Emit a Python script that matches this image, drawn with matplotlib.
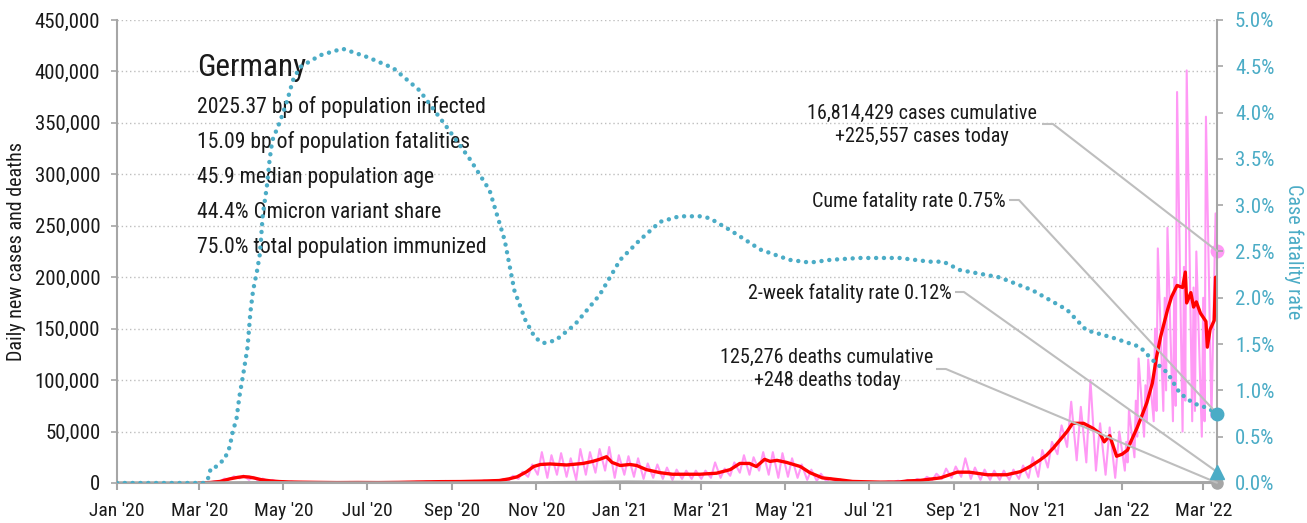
import matplotlib
matplotlib.use("Agg")
import matplotlib.pyplot as plt
import matplotlib.dates as mdates
from matplotlib.ticker import FuncFormatter, MultipleLocator
import pandas as pd

plt.rcParams["font.family"] = ["Roboto Condensed", "DejaVu Sans"]

# ---- data ----
# days are counted from 2020-01-01
DAY0 = pd.Timestamp("2020-01-01")
last_day = 800  # 2022-03-11

# daily new cases, thousands: Monday trough / Thursday peak for each week from 2020-03-02
pink_low = [0.1, 0.4, 1.5, 3.5, 4.5, 3.0, 2.0, 1.5, 1.0, 0.6,
            0.4, 0.4, 0.3, 0.3, 0.2, 0.3, 0.4, 0.3, 0.3, 0.3,
            0.4, 0.5, 0.6, 0.7, 0.8, 0.8, 0.8, 0.9, 1.0, 1.2,
            1.4, 1.5, 2.5, 4.0, 6.0, 8.0, 5.0, 8.0, 6.0, 3.0,
            8.0, 10.0, 12.0, 5.0, 8.0, 6.0, 4.0, 5.0, 4.0, 3.0,
            4.0, 4.0, 4.0, 5.0, 5.0, 7.0, 10.0, 8.0, 12.0, 8.0,
            5.0, 6.0, 5.0, 3.0, 2.0, 1.5, 1.0, 0.6, 0.5, 0.4,
            0.4, 0.5, 0.8, 1.0, 1.5, 2.0, 3.0, 4.0, 5.0, 6.0,
            4.0, 3.0, 3.0, 3.0, 3.0, 4.0, 5.0, 6.0, 15.0, 28.0,
            35.0, 22.0, 20.0, 12.0, 8.0, 5.0, 12.0, 25.0, 45.0, 60.0,
            70.0, 60.0, 50.0, 60.0, 45.0, 64.0]
pink_high = [0.3, 1.6, 4.2, 6.5, 7.2, 6.0, 4.3, 3.0, 1.9, 1.3,
             1.0, 0.9, 0.8, 0.6, 0.5, 1.0, 0.8, 0.6, 0.5, 0.6,
             0.8, 1.0, 1.2, 1.5, 1.7, 2.0, 1.8, 1.9, 2.0, 2.4,
             2.8, 4.0, 7.0, 11.0, 18.0, 30.0, 27.0, 29.0, 24.0, 33.0,
             30.0, 33.0, 35.0, 27.0, 26.0, 24.0, 19.0, 18.0, 15.0, 13.0,
             12.0, 12.0, 12.0, 20.0, 14.0, 20.0, 27.0, 25.0, 30.0, 30.0,
             29.0, 24.0, 18.0, 13.0, 9.0, 5.0, 3.5, 2.0, 1.2, 1.0,
             1.0, 1.5, 2.2, 3.0, 4.0, 6.0, 9.0, 14.0, 16.0, 24.0,
             15.0, 13.0, 12.0, 12.0, 13.0, 17.0, 25.0, 32.0, 40.0, 56.0,
             79.0, 74.0, 100.0, 58.0, 54.0, 50.0, 71.0, 121.0, 120.0, 228.0,
             248.0, 380.0, 401.0, 225.0, 356.0, 262.0]
# Omicron weeks (from week 96) have a second spike on Tuesday and a dip on Wednesday
omi_first_week = 96
omi_tue = [40, 80, 95, 150, 180, 200, 210, 190, 180]
omi_wed = [20, 45, 60, 70, 90, 75, 80, 70, 60]
cases_today = 225557
cases_cum = 16814429

# 7-day average of new cases, thousands
avg_day = [60, 68, 75, 82, 88, 92, 96, 100, 105, 112, 118, 125, 133, 145, 160, 175, 190,
           205, 220, 235, 250, 265, 278, 285, 291, 298, 303, 308, 315, 327, 339, 346, 351,
           356, 360, 366, 373, 378, 385, 395, 404, 424, 436, 446, 453, 460, 465, 471, 475,
           480, 487, 497, 504, 513, 526, 535, 555, 569, 575, 584, 599, 611, 620, 633, 647,
           657, 664, 671, 676, 681, 686, 691, 695, 703, 710, 715, 718, 722, 727, 731, 735,
           737, 742, 745, 749, 753, 756, 759, 764, 767, 771, 775, 777, 778, 781, 783, 785,
           788, 792, 793, 795, 798, 799, 800]
avg_k = [0.0, 0.5, 1.5, 4.0, 5.5, 6.2, 5.8, 4.8, 3.2, 2.0, 1.4, 1.0, 0.8, 0.6, 0.4, 0.5, 0.4,
         0.6, 1.0, 1.3, 1.4, 1.8, 2.4, 4.0, 6.0, 11.0, 16.0, 18.0, 18.5, 17.5, 19.0, 21.0, 23.0,
         25.5, 20.0, 17.0, 18.0, 17.0, 13.0, 10.0, 8.5, 8.5, 9.5, 13.0, 19.0, 19.0, 16.0, 23.0, 21.0,
         22.0, 20.0, 16.0, 10.0, 5.0, 3.0, 1.5, 0.8, 1.0, 2.0, 2.5, 5.0, 10.5, 10.5, 8.0, 8.0,
         11.0, 16.0, 22.0, 27.0, 34.0, 42.0, 50.0, 58.0, 58.0, 53.0, 48.0, 40.0, 46.0, 26.0, 28.0, 32.0,
         39.0, 54.0, 64.0, 78.0, 97.0, 122.0, 142.0, 168.0, 181.0, 192.0, 190.0, 205.0, 175.0, 185.0, 171.0, 176.0,
         165.0, 157.0, 132.0, 149.0, 158.0, 200.0, 190.0]

# daily deaths, thousands
death_day = [0, 70, 85, 100, 115, 130, 160, 240, 290, 310, 340, 370, 390, 420, 440,
             470, 500, 530, 580, 620, 660, 700, 730, 760, 790, 800]
death_k = [0.0, 0.0, 0.1, 0.22, 0.18, 0.08, 0.02, 0.01, 0.03, 0.15, 0.5, 0.85, 0.7, 0.4, 0.2,
           0.22, 0.2, 0.07, 0.02, 0.05, 0.08, 0.3, 0.25, 0.15, 0.2, 0.248]
deaths_today = 248
deaths_cum = 125276

# cumulative case fatality rate, percent
cfr_day = [0, 64, 67, 68, 70, 73, 76, 78, 80, 82, 84, 87, 89, 92, 95, 97, 99, 102, 104,
           106, 109, 111, 113, 119, 124, 128, 133, 148, 164, 182, 201, 220, 240, 257, 271,
           282, 289, 297, 304, 310, 319, 333, 351, 366, 380, 395, 409, 424, 431, 446, 468,
           489, 504, 519, 540, 569, 591, 601, 613, 642, 666, 691, 705, 724, 744, 753, 764,
           773, 783, 793, 800]
cfr_pct = [0.0, 0.0, 0.07, 0.15, 0.15, 0.19, 0.23, 0.25, 0.32, 0.39, 0.54, 0.70, 0.93, 1.19,
           1.47, 1.84, 2.08, 2.30, 2.48, 2.89, 3.20, 3.49, 3.70, 3.92, 4.14, 4.35, 4.49, 4.62,
           4.69, 4.60, 4.48, 4.24, 3.84, 3.49, 3.16, 2.62, 2.08, 1.76, 1.57, 1.51, 1.54, 1.71,
           2.03, 2.41, 2.62, 2.82, 2.88, 2.88, 2.86, 2.73, 2.52, 2.41, 2.38, 2.41, 2.43, 2.43,
           2.39, 2.39, 2.30, 2.22, 2.08, 1.87, 1.65, 1.57, 1.47, 1.33, 1.19, 0.97, 0.86, 0.81, 0.75]
cfr_now = 0.75
cfr_2week = 0.12

info_lines = ["2025.37 bp of population infected",
              "15.09 bp of population fatalities",
              "45.9 median population age",
              "44.4% Omicron variant share",
              "75.0% total population immunized"]

# ---- styling ----
PINK = "#FF99F5"
RED = "#FF0000"
TEAL = "#4BACC6"
GREY = "#A6A6A6"
LINE_GREY = "#BEBEBE"
TXT = "#1A1A1A"


def to_dates(days):
    return DAY0 + pd.to_timedelta(days, unit="D")


last_date = to_dates(last_day)
last_num = mdates.date2num(last_date)

# build the zig-zag daily case series
pts_x, pts_y = [], []
weeks = pd.date_range("2020-03-02", periods=len(pink_low), freq="7D")
for i, wk in enumerate(weeks):
    pts_x.append(wk); pts_y.append(pink_low[i] * 1000)
    j = i - omi_first_week
    if 0 <= j < len(omi_tue):
        pts_x.append(wk + pd.Timedelta(days=1)); pts_y.append(omi_tue[j] * 1000)
        pts_x.append(wk + pd.Timedelta(days=2)); pts_y.append(omi_wed[j] * 1000)
    pts_x.append(wk + pd.Timedelta(days=3)); pts_y.append(pink_high[i] * 1000)
pts_x.append(last_date); pts_y.append(cases_today)

fig = plt.figure(figsize=(13.07, 5.23), dpi=100)
ax = fig.add_axes([0.0895, 0.0765, 0.8416, 0.8853])
ax2 = ax.twinx()

ax.plot(pts_x, pts_y, color=PINK, lw=1.5, zorder=2)
ax.plot(to_dates(avg_day), [v * 1000 for v in avg_k], color=RED, lw=2.4, zorder=3)
ax.plot(to_dates(death_day), [v * 1000 for v in death_k], color=GREY, lw=2.5, zorder=4)

ax2.plot(to_dates(cfr_day), cfr_pct, color=TEAL, lw=3.2,
         linestyle=(0, (0.01, 1.75)), dash_capstyle="round", zorder=3)

# end markers
ax.plot([last_date], [cases_today], "o", color=PINK, ms=9, clip_on=False, zorder=6)
ax.plot([last_date], [deaths_today], "o", color=GREY, ms=8, clip_on=False, zorder=6)
ax2.plot([last_date], [cfr_now], "o", color=TEAL, ms=9, clip_on=False, zorder=6)
ax2.plot([last_date], [cfr_2week], "^", color=TEAL, ms=10, clip_on=False, zorder=6)

# axes
start = pd.Timestamp("2020-01-01")
ax.set_xlim(start, last_date)
ax.set_ylim(0, 450000)
ax2.set_ylim(0, 5.0)
ax.yaxis.set_major_locator(MultipleLocator(50000))
ax.yaxis.set_major_formatter(FuncFormatter(lambda v, p: f"{v:,.0f}"))
ax2.yaxis.set_major_locator(MultipleLocator(0.5))
ax2.yaxis.set_major_formatter(FuncFormatter(lambda v, p: f"{v:.1f}%"))
ax.xaxis.set_major_locator(mdates.MonthLocator(bymonth=[1, 3, 5, 7, 9, 11]))
ax.xaxis.set_major_formatter(mdates.DateFormatter("%b '%y"))

ax.grid(axis="y", color=LINE_GREY, linestyle=(0, (1, 2)), lw=1)
ax.set_axisbelow(True)
for s in ("top", "right"):
    ax.spines[s].set_visible(False)
for s in ("top", "left", "bottom"):
    ax2.spines[s].set_visible(False)
ax.spines["left"].set_color(GREY)
ax.spines["left"].set_linewidth(1.5)
ax.spines["bottom"].set_color(GREY)
ax.spines["bottom"].set_linewidth(1.5)
ax2.spines["right"].set_color(GREY)
ax2.spines["right"].set_linewidth(1.5)

ax.tick_params(axis="y", length=4, width=1.2, color=GREY, pad=8, labelsize=15, labelcolor=TXT)
ax.tick_params(axis="x", length=5, width=1.5, color=GREY, pad=9, labelsize=14, labelcolor=TXT)
ax2.tick_params(axis="y", length=4, width=1.2, color=GREY, pad=9, labelsize=15, labelcolor=TEAL)

ax.set_ylabel("Daily new cases and deaths", fontsize=14.5, color=TXT, labelpad=6)
ax2.set_ylabel("Case fatality rate", fontsize=14.5, color=TEAL, rotation=270,
               va="bottom", labelpad=7)

# info block
ax.text(0.0727, 0.879, "Germany", transform=ax.transAxes, fontsize=22.5,
        color=TXT, va="baseline")
for k, line in enumerate(info_lines):
    ax.text(0.0727, 0.799 - k * 0.0755, line, transform=ax.transAxes,
            fontsize=15.6, color=TXT, va="baseline")

# callouts: text, short horizontal stub, then line to the end marker
callouts = [
    (f"{cases_cum:,} cases cumulative\n+{cases_today:,} cases today", (0.7318, 0.7732), "center",
     (0.8409, 0.8509, 0.7754), (last_num, cases_today), ax.transData),
    (f"Cume fatality rate {cfr_now:.2f}%", (0.8082, 0.6091), "right",
     (0.8109, 0.8200, 0.6112), (last_num, cfr_now), ax2.transData),
    (f"2-week fatality rate {cfr_2week:.2f}%", (0.7591, 0.4104), "right",
     (0.7618, 0.7700, 0.4125), (last_num, cfr_2week), ax2.transData),
    (f"{deaths_cum:,} deaths cumulative\n+{deaths_today:,} deaths today", (0.6455, 0.2462), "center",
     (0.7445, 0.7536, 0.2462), (last_num, deaths_today), ax.transData),
]
for label, (tx, ty), ha, (x0, x1, sy), target, trans in callouts:
    ax2.text(tx, ty, label, transform=ax2.transAxes, fontsize=14.5, color=TXT,
             ha=ha, va="center", multialignment="center", linespacing=1.25)
    ax2.plot([x0, x1], [sy, sy], color=LINE_GREY, lw=1.5, transform=ax2.transAxes,
             solid_capstyle="butt", zorder=5)
    ax2.annotate("", xy=target, xycoords=trans, xytext=(x1, sy), textcoords="axes fraction",
                 arrowprops=dict(arrowstyle="-", color=LINE_GREY, lw=1.5,
                                 shrinkA=0, shrinkB=0), zorder=5)

fig.savefig("out.png", dpi=100, facecolor="white")
